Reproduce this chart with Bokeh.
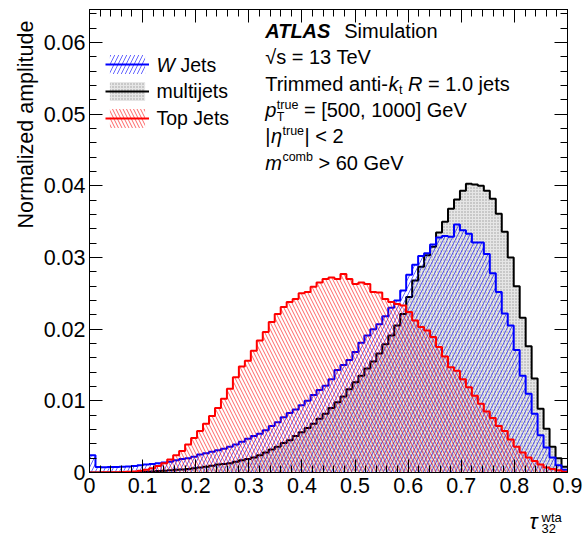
import numpy as np
from bokeh.plotting import figure
from bokeh.layouts import row, column
from bokeh.models import (Range1d, LinearAxis, SingleIntervalTicker, Label, Legend,
                          LegendItem, CustomJSTickFormatter)
from bokeh.embed import file_html
from bokeh.resources import INLINE

# ---------------- data ----------------
x_min, x_max, n_bins = 0.0, 0.9, 80

w_jets = [0.0024, 0.00075, 0.00072, 0.00075, 0.00078, 0.0008, 0.00085, 0.0009, 0.0010, 0.0011,
          0.0012, 0.0013, 0.0014, 0.0015, 0.0017, 0.0019, 0.0020, 0.0022, 0.0025, 0.0027,
          0.0029, 0.0031, 0.0033, 0.0036, 0.0039, 0.0043, 0.0047, 0.0051, 0.0054, 0.0059,
          0.0065, 0.0070, 0.0077, 0.0083, 0.0088, 0.0094, 0.0100, 0.0108, 0.0115, 0.0121,
          0.0130, 0.0143, 0.0150, 0.0157, 0.0168, 0.0181, 0.0191, 0.0200, 0.0207, 0.0218,
          0.0230, 0.0240, 0.0254, 0.0276, 0.0290, 0.0302, 0.0306, 0.0318, 0.0328, 0.0330,
          0.0329, 0.0346, 0.0338, 0.0333, 0.0321, 0.0321, 0.0305, 0.0278, 0.0252, 0.0222,
          0.0205, 0.0171, 0.0135, 0.0110, 0.0082, 0.0052, 0.0035, 0.0021, 0.0010, 0.0004]

multijets = [0.0, 0.0, 0.0, 0.0, 0.00001, 0.00002, 0.00003, 0.00005, 0.00008, 0.0001,
             0.00014, 0.0002, 0.00025, 0.0003, 0.00037, 0.00043, 0.0005, 0.0006, 0.0007, 0.0008,
             0.00095, 0.0011, 0.0012, 0.0013, 0.0015, 0.0017, 0.0019, 0.0021, 0.0024, 0.0028,
             0.0032, 0.0036, 0.0041, 0.0045, 0.0051, 0.0056, 0.0062, 0.0068, 0.0075, 0.0082,
             0.0090, 0.0098, 0.0106, 0.0116, 0.0126, 0.0135, 0.0145, 0.0155, 0.0166, 0.0179,
             0.0191, 0.0205, 0.0221, 0.0245, 0.0268, 0.0287, 0.0303, 0.0315, 0.0335, 0.0350,
             0.0368, 0.0381, 0.0393, 0.0403, 0.0402, 0.0400, 0.0393, 0.0382, 0.0361, 0.0336,
             0.0300, 0.0260, 0.0216, 0.0176, 0.0131, 0.0089, 0.0061, 0.0036, 0.0020, 0.0008]

top_jets = [0.0, 0.0, 0.00002, 0.00003, 0.00005, 0.00007, 0.0001, 0.00015, 0.00025, 0.0004,
            0.0006, 0.0009, 0.0013, 0.0018, 0.0024, 0.0030, 0.0039, 0.0048, 0.0058, 0.0068,
            0.0079, 0.0090, 0.0103, 0.0117, 0.0133, 0.0148, 0.0156, 0.0170, 0.0184, 0.0196,
            0.0210, 0.0221, 0.0231, 0.0238, 0.0242, 0.0250, 0.0252, 0.0259, 0.0265, 0.0270,
            0.0272, 0.0270, 0.0277, 0.0270, 0.0263, 0.0265, 0.0263, 0.0252, 0.0251, 0.0242,
            0.0238, 0.0235, 0.0233, 0.0224, 0.0212, 0.0203, 0.0198, 0.0189, 0.0175, 0.0162,
            0.0147, 0.0142, 0.0130, 0.0119, 0.0107, 0.0096, 0.0085, 0.0076, 0.0065, 0.0058,
            0.0046, 0.0036, 0.0028, 0.0021, 0.0016, 0.0011, 0.0007, 0.0005, 0.0003, 0.0001]

series_names = ["W Jets", "multijets", "Top Jets"]
y_max = 0.0646

# ---------------- layout constants (page px) ----------------
FONT = "Liberation Sans"
FW, FH = 478, 463
FRAME_L, FRAME_T = 87, 9
FRAME_B = FRAME_T + FH            # 472
YT_W = 40                         # width of the y-title strip
MAIN_H = 502                      # height of main figure
TOTAL_W, TOTAL_H = 585, 536
XT_H = TOTAL_H - MAIN_H           # height of x-title strip
MID = 0.35                        # em-box middle above the baseline

p = figure(frame_width=FW, frame_height=FH, title=None,
           x_range=Range1d(x_min, x_max), y_range=Range1d(0, y_max),
           x_axis_type=None, y_axis_type=None,
           output_backend="svg", toolbar_location=None,
           min_border_left=FRAME_L - YT_W, min_border_right=TOTAL_W - FRAME_L - FW,
           min_border_top=FRAME_T, min_border_bottom=MAIN_H - FRAME_B)
p.outline_line_color = "black"
p.outline_line_width = 1
p.background_fill_color = "white"
p.border_fill_color = "white"

x_fmt = CustomJSTickFormatter(code="return Math.abs(tick) < 1e-9 ? '0' : tick.toFixed(1);")
y_fmt = CustomJSTickFormatter(code="return Math.abs(tick) < 1e-9 ? '0' : tick.toFixed(2);")
blank = CustomJSTickFormatter(code="return '';")


def style_axis(ax, labels):
    ax.axis_line_color = "black"
    ax.major_tick_in = 13
    ax.major_tick_out = 0
    ax.minor_tick_in = 7
    ax.minor_tick_out = 0
    ax.major_tick_line_color = "black"
    ax.minor_tick_line_color = "black"
    ax.major_label_text_font = FONT
    ax.major_label_text_font_size = "21.5px"
    ax.major_label_text_color = "black"
    if not labels:
        ax.major_label_text_font_size = "0px"
        ax.major_label_standoff = 0


for side in ["below", "above"]:
    ax = LinearAxis(ticker=SingleIntervalTicker(interval=0.1, num_minor_ticks=5),
                    formatter=x_fmt if side == "below" else blank)
    style_axis(ax, side == "below")
    if side == "below":
        ax.major_label_standoff = 5
    p.add_layout(ax, side)

for side in ["left", "right"]:
    ax = LinearAxis(ticker=SingleIntervalTicker(interval=0.01, num_minor_ticks=5),
                    formatter=y_fmt if side == "left" else blank)
    style_axis(ax, side == "left")
    if side == "left":
        ax.major_label_standoff = 4
    p.add_layout(ax, side)

# ---------------- histograms ----------------
edges = np.linspace(x_min, x_max, n_bins + 1)


def hist(vals, line_color, **area_kw):
    yv = np.append(np.asarray(vals, dtype=float), vals[-1])
    a = p.varea_step(x=edges, y1=np.zeros_like(yv), y2=yv, step_mode="after", **area_kw)
    l = p.step(x=edges, y=yv, mode="after", line_color=line_color, line_width=2)
    return a, l


mj_a, mj_l = hist(multijets, "black", fill_color="#e6e6e6", fill_alpha=1.0,
                  hatch_pattern=".", hatch_color="#505050", hatch_scale=3,
                  hatch_weight=1, hatch_alpha=0.5)
w_a, w_l = hist(w_jets, "#0000ff", fill_alpha=0.0,
                hatch_pattern="/", hatch_color="#0000ff", hatch_scale=8,
                hatch_weight=1, hatch_alpha=0.6)
t_a, t_l = hist(top_jets, "#ff0000", fill_alpha=0.0,
                hatch_pattern="\\", hatch_color="#ff0000", hatch_scale=7,
                hatch_weight=1, hatch_alpha=0.6)

legend = Legend(items=[LegendItem(label=" ", renderers=[w_a, w_l]),
                       LegendItem(label=" ", renderers=[mj_a, mj_l]),
                       LegendItem(label=" ", renderers=[t_a, t_l])],
                location=(16, 342), glyph_width=44, glyph_height=24, spacing=3,
                padding=0, margin=0, label_text_font_size="1px", label_standoff=0,
                border_line_alpha=0, background_fill_alpha=0)
p.add_layout(legend)


# ---------------- texts inside the frame (page px, py = baseline) ----------------
def X(px):
    return (px - FRAME_L) / FW * (x_max - x_min)


def Y(py):
    return (FRAME_B - py) / FH * y_max


def txt(s, px, py, size=20.0, style="normal"):
    p.add_layout(Label(x=X(px), y=Y(py - MID * size), text=s, text_font=FONT,
                       text_font_size=f"{size}px", text_font_style=style,
                       text_color="black", text_baseline="middle"))


txt("W", 154, 71.5, 19.5, "italic")
txt("Jets", 178, 71.5, 19.5)
txt(series_names[1], 154, 97.5, 19.5)
txt(series_names[2], 154, 124, 19.5)

x0 = 262.7
b = [37.5, 63.8, 90.1, 116.4, 142.7, 169.0]
SS = 12.5
txt("ATLAS", x0, b[0], 20, "bold italic")
txt("Simulation", 341.7, b[0])
txt("\u221as = 13 TeV", x0, b[1])
txt("Trimmed anti-", x0, b[2])
txt("k", 386.0, b[2], style="italic")
txt("t", 396.5, b[2] + 4, SS)
txt("R", 405.5, b[2], style="italic")
txt("= 1.0 jets", 425.5, b[2])
txt("p", x0, b[3], style="italic")
txt("true", 274.3, b[3] - 8, SS)
txt("T", 274.3, b[3] + 4, SS)
txt("= [500, 1000] GeV", 301.4, b[3])
txt("|", x0, b[4])
txt("\u03b7", 268.4, b[4], style="italic")
txt("true", 280.0, b[4] - 8, SS)
txt("| < 2", 302.0, b[4])
txt("m", x0, b[5], style="italic")
txt("comb", 279.9, b[5] - 8, SS)
txt("> 60 GeV", 316.0, b[5])

# ---------------- y-axis title strip ----------------
yt = figure(width=YT_W, height=MAIN_H, title=None,
            x_range=Range1d(0, YT_W), y_range=Range1d(0, MAIN_H),
            x_axis_type=None, y_axis_type=None, output_backend="svg", toolbar_location=None,
            min_border=0)
yt.outline_line_color = None
yt.add_layout(Label(x=33 - MID * 21.5, y=MAIN_H - 12, text="Normalized amplitude",
                    angle=np.pi / 2, text_align="right", text_baseline="middle",
                    text_font=FONT, text_font_size="21.5px", text_color="black"))

# ---------------- x-axis title strip ----------------
xt = figure(width=TOTAL_W, height=XT_H, title=None,
            x_range=Range1d(0, TOTAL_W), y_range=Range1d(0, XT_H),
            x_axis_type=None, y_axis_type=None, output_backend="svg", toolbar_location=None,
            min_border=0)
xt.outline_line_color = None


def xtxt(s, px, py, size, style="normal"):
    xt.add_layout(Label(x=px, y=XT_H - (py - MID * size - MAIN_H), text=s, text_font=FONT,
                        text_font_size=f"{size}px", text_font_style=style,
                        text_color="black", text_baseline="middle"))


xtxt("\u03c4", 529, 529, 21.5, "italic")
xtxt("wta", 541, 521.5, 13)
xtxt("32", 541, 532.5, 13)

layout = column(row(yt, p, spacing=0), xt, spacing=0)
open("out.html", "w").write(file_html(layout, INLINE))
